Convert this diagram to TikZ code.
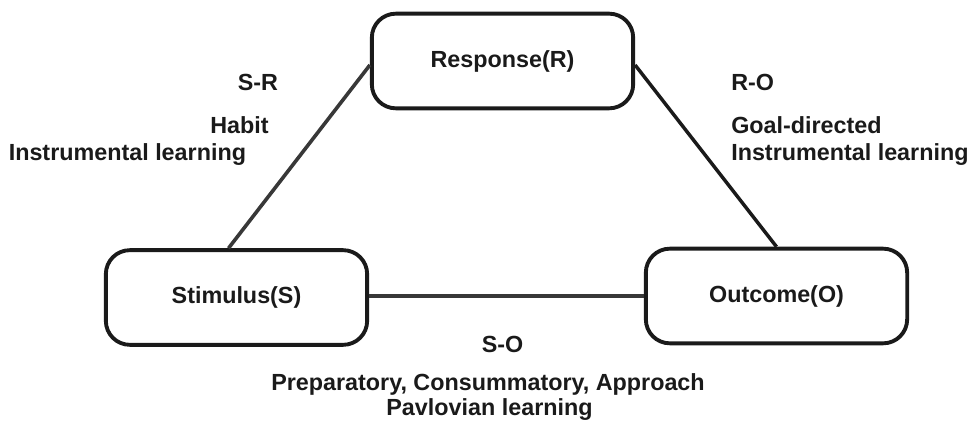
\documentclass[tikz,border=0pt]{standalone}
\usepackage{fontspec}
\setmainfont{Liberation Sans}
\usetikzlibrary{calc}
\definecolor{ink}{HTML}{1A1A1A}
\definecolor{edgegray}{HTML}{383838}
\tikzset{
  box/.style={draw=ink, line width=2.9pt, rounded corners=18pt, minimum width=196pt, minimum height=71pt, inner sep=0pt, text=ink, font=\fontsize{17.5}{21}\selectfont\bfseries},
  lbl/.style={inner sep=0pt, text=ink, font=\fontsize{17.5}{21}\selectfont\bfseries},
  conn/.style={line width=2.7pt, draw=edgegray},
  connk/.style={line width=2.6pt, draw=ink}
}
\begin{document}
\begin{tikzpicture}[x=0.75pt, y=-0.75pt]
\useasboundingbox (0,0) rectangle (969,423);
\node[box] (R) at (502.5,61) {Response(R)};
\node[box] (S) at (236.5,297.5) {Stimulus(S)};
\node[box] (O) at (776.5,296) {Outcome(O)};
\draw[conn] ([xshift=-6pt]S.north) -- ([yshift=-3pt]R.west);
\draw[connk] ([yshift=-3pt]R.east) -- (O.north);
\draw[conn] (S.east |- O.west) -- (O.west);
\node[lbl, anchor=base] (sr) at (258,90.7) {S-R};
\node[lbl, anchor=base] (habit) at (239.5,133.7) {Habit};
\node[lbl, anchor=base west] (il1) at (8.5,160.7) {Instrumental learning};
\node[lbl, anchor=base west] (ro) at (731,90.7) {R-O};
\node[lbl, anchor=base west] (goal) at (731,133.7) {Goal-directed};
\node[lbl, anchor=base west] (il2) at (731,160.7) {Instrumental learning};
\node[lbl, anchor=base] (so) at (502.5,352) {S-O};
\node[lbl, anchor=base] (prep) at (488,390) {Preparatory, Consummatory, Approach};
\node[lbl, anchor=base] (pav) at (489.5,415.5) {Pavlovian learning};
\end{tikzpicture}
\end{document}
